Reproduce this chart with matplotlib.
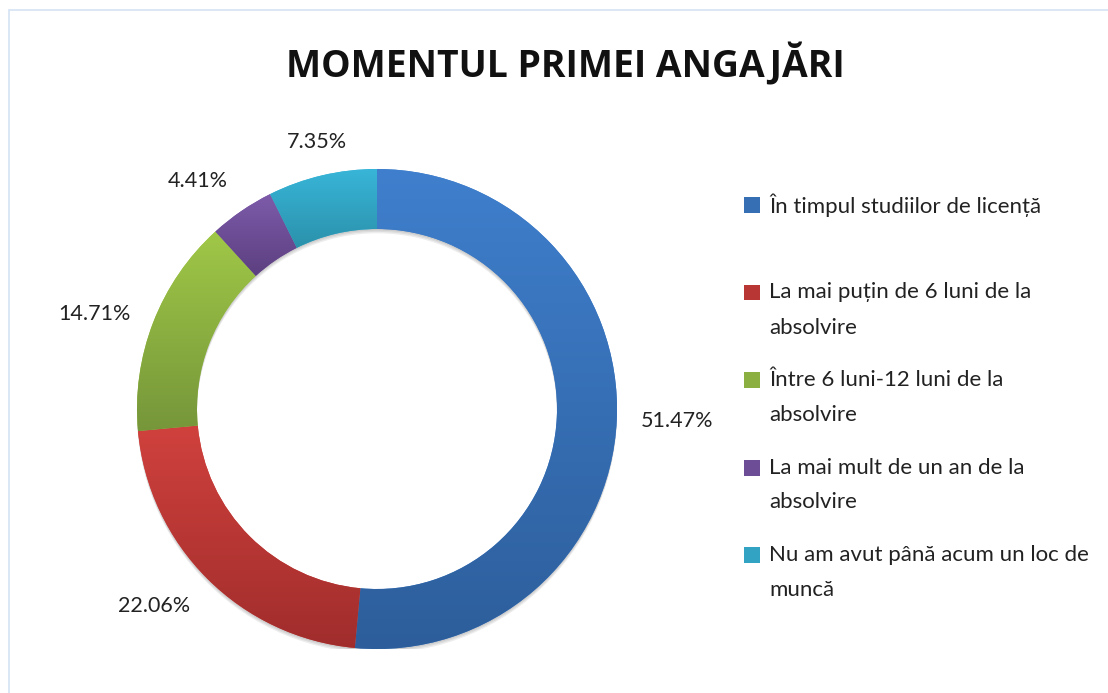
import textwrap
import numpy as np
import matplotlib
matplotlib.use('Agg')
import matplotlib.pyplot as plt
from matplotlib.colors import LinearSegmentedColormap
from matplotlib.patches import Wedge, Rectangle

title = 'MOMENTUL PRIMEI ANGAJĂRI'
categories = [
    'În timpul studiilor de licență',
    'La mai puțin de 6 luni de la absolvire',
    'Între 6 luni-12 luni de la absolvire',
    'La mai mult de un an de la absolvire',
    'Nu am avut până acum un loc de muncă',
]
shares = [51.47, 22.06, 14.71, 4.41, 7.35]
top_colors = ['#3F7FCD', '#D0413D', '#A0C847', '#7D5BAA', '#38B5D8']
bottom_colors = ['#2D5E9B', '#A02D2C', '#76963A', '#5C3F80', '#2B91AB']

W, H = 1108, 693
TEXT_FONT = ['Lato', 'DejaVu Sans']


def mix(c1, c2):
    a = np.array(matplotlib.colors.to_rgb(c1))
    b = np.array(matplotlib.colors.to_rgb(c2))
    return tuple((a + b) / 2)


def main():
    fig = plt.figure(figsize=(W / 100, H / 100), dpi=100)

    # light frame (only top/left visible in the original crop)
    fig.patches.append(Rectangle((9 / W, -0.2), 1.2, 1 - 10 / H + 0.2, transform=fig.transFigure,
                                 fill=False, edgecolor='#D5E3F4', linewidth=1.2))

    fig.text(0.51, 1 - 65 / H, title, ha='center', va='center', fontsize=26.8,
             fontweight='bold', family=['Open Sans', 'DejaVu Sans'], color='#111111')

    # donut axes
    cx, cy, R = 377, 409, 240
    ax = fig.add_axes([(cx - R) / W, (H - cy - R) / H, 2 * R / W, 2 * R / H])
    wedges, _ = ax.pie(shares, radius=1, startangle=90, counterclock=False,
                       colors=top_colors, wedgeprops=dict(width=0.25, linewidth=0))

    # soft shadow under the ring
    for off in (0.006, 0.012, 0.018):
        ax.add_patch(Wedge((0, -off), 1.0, 0, 360, width=0.25, facecolor='black',
                           edgecolor='none', alpha=0.07, zorder=0))

    grad = np.linspace(0, 1, 256).reshape(-1, 1)
    for w, c1, c2 in zip(wedges, top_colors, bottom_colors):
        w.set_zorder(1)
        bb = w.get_path().get_extents()
        cmap = LinearSegmentedColormap.from_list('g', [c1, c2])
        im = ax.imshow(grad, cmap=cmap, extent=[bb.x0, bb.x1, bb.y0, bb.y1],
                       origin='upper', aspect='auto', zorder=2, interpolation='bilinear')
        im.set_clip_path(w)

    # percentage labels just outside the ring
    for w, v in zip(wedges, shares):
        ang = np.deg2rad((w.theta1 + w.theta2) / 2)
        dx, dy = np.cos(ang), np.sin(ang)
        ha = 'left' if dx > 0.3 else ('right' if dx < -0.3 else 'center')
        va = 'bottom' if dy > 0.5 else ('top' if dy < -0.5 else 'center')
        ax.text(1.1 * dx, 1.1 * dy, f'{v:.2f}%', ha=ha, va=va, fontsize=15.5,
                family=TEXT_FONT, color='#222222', zorder=5)

    ax.set_xlim(-1, 1)
    ax.set_ylim(-1, 1)
    ax.set_aspect('equal')
    ax.axis('off')

    # legend on the right
    y0, step, line_h = 205, 87.5, 35
    for i, (lab, c1, c2) in enumerate(zip(categories, top_colors, bottom_colors)):
        y = y0 + i * step
        fig.patches.append(Rectangle((744 / W, 1 - (y + 8) / H), 16 / W, 16 / H,
                                     transform=fig.transFigure, facecolor=mix(c1, c2),
                                     edgecolor='none'))
        lines = textwrap.wrap(lab, width=30, break_on_hyphens=False)
        for k, ln in enumerate(lines):
            fig.text(769 / W, 1 - (y + k * line_h) / H, ln, ha='left', va='center',
                     fontsize=16, family=TEXT_FONT, color='#222222')

    fig.savefig('out.png', dpi=100, facecolor='white')


if __name__ == '__main__':
    main()
